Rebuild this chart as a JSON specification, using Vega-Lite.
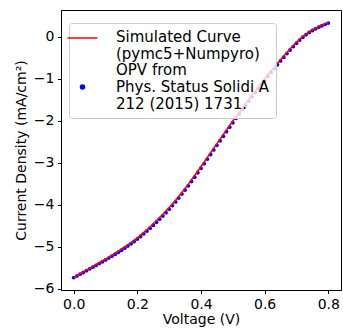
{
  "$schema": "https://vega.github.io/schema/vega-lite/v6.json",
  "width": 280,
  "height": 280,
  "autosize": {"type": "none"},
  "padding": {"left": 61, "top": 10, "right": 2, "bottom": 39},
  "config": {
    "font": "DejaVu Sans",
    "view": {"stroke": "black", "strokeWidth": 1},
    "axis": {
      "domainColor": "black", "tickColor": "black", "labelColor": "black", "titleColor": "black",
      "labelFont": "DejaVu Sans", "titleFont": "DejaVu Sans",
      "labelFontSize": 14, "titleFontSize": 14, "titleFontWeight": "normal",
      "tickSize": 3.5, "labelPadding": 3.5, "grid": false, "domainWidth": 1, "tickWidth": 1
    }
  },
  "datasets": {
    "dots": [
      {"V":0.00,"J":-5.730},{"V":0.01,"J":-5.690},{"V":0.02,"J":-5.649},{"V":0.03,"J":-5.608},{"V":0.04,"J":-5.566},
      {"V":0.05,"J":-5.524},{"V":0.06,"J":-5.482},{"V":0.07,"J":-5.440},{"V":0.08,"J":-5.397},{"V":0.09,"J":-5.354},
      {"V":0.10,"J":-5.310},{"V":0.11,"J":-5.266},{"V":0.12,"J":-5.221},{"V":0.13,"J":-5.175},{"V":0.14,"J":-5.128},
      {"V":0.15,"J":-5.080},{"V":0.16,"J":-5.030},{"V":0.17,"J":-4.979},{"V":0.18,"J":-4.926},{"V":0.19,"J":-4.871},
      {"V":0.20,"J":-4.814},{"V":0.21,"J":-4.754},{"V":0.22,"J":-4.691},{"V":0.23,"J":-4.625},{"V":0.24,"J":-4.557},
      {"V":0.25,"J":-4.487},{"V":0.26,"J":-4.415},{"V":0.27,"J":-4.341},{"V":0.28,"J":-4.265},{"V":0.29,"J":-4.186},
      {"V":0.30,"J":-4.104},{"V":0.31,"J":-4.019},{"V":0.32,"J":-3.931},{"V":0.33,"J":-3.840},{"V":0.34,"J":-3.746},
      {"V":0.35,"J":-3.649},{"V":0.36,"J":-3.549},{"V":0.37,"J":-3.447},{"V":0.38,"J":-3.343},{"V":0.39,"J":-3.237},
      {"V":0.40,"J":-3.130},{"V":0.41,"J":-3.022},{"V":0.42,"J":-2.914},{"V":0.43,"J":-2.805},{"V":0.44,"J":-2.696},
      {"V":0.45,"J":-2.587},{"V":0.46,"J":-2.478},{"V":0.47,"J":-2.370},{"V":0.48,"J":-2.262},{"V":0.49,"J":-2.155},
      {"V":0.50,"J":-2.049},{"V":0.51,"J":-1.944},{"V":0.52,"J":-1.840},{"V":0.53,"J":-1.737},{"V":0.54,"J":-1.635},
      {"V":0.55,"J":-1.534},{"V":0.56,"J":-1.434},{"V":0.57,"J":-1.335},{"V":0.58,"J":-1.237},{"V":0.59,"J":-1.140},
      {"V":0.60,"J":-1.044},{"V":0.61,"J":-0.949},{"V":0.62,"J":-0.855},{"V":0.63,"J":-0.762},{"V":0.64,"J":-0.670},
      {"V":0.65,"J":-0.580},{"V":0.66,"J":-0.492},{"V":0.67,"J":-0.406},{"V":0.68,"J":-0.322},{"V":0.69,"J":-0.240},
      {"V":0.70,"J":-0.161},{"V":0.71,"J":-0.086},{"V":0.72,"J":-0.018},{"V":0.73,"J":0.042},{"V":0.74,"J":0.095},
      {"V":0.75,"J":0.142},{"V":0.76,"J":0.184},{"V":0.77,"J":0.222},{"V":0.78,"J":0.257},{"V":0.79,"J":0.289},
      {"V":0.80,"J":0.319}
    ],
    "sim": [
      {"V":0.00,"J":-5.725},{"V":0.02,"J":-5.639},{"V":0.04,"J":-5.551},{"V":0.06,"J":-5.462},{"V":0.08,"J":-5.377},
      {"V":0.10,"J":-5.290},{"V":0.12,"J":-5.196},{"V":0.14,"J":-5.103},{"V":0.16,"J":-5.000},{"V":0.18,"J":-4.896},
      {"V":0.20,"J":-4.784},{"V":0.22,"J":-4.656},{"V":0.24,"J":-4.522},{"V":0.26,"J":-4.375},{"V":0.28,"J":-4.225},
      {"V":0.30,"J":-4.064},{"V":0.32,"J":-3.891},{"V":0.34,"J":-3.706},{"V":0.36,"J":-3.509},{"V":0.38,"J":-3.303},
      {"V":0.40,"J":-3.090},{"V":0.42,"J":-2.874},{"V":0.44,"J":-2.656},{"V":0.46,"J":-2.438},{"V":0.48,"J":-2.222},
      {"V":0.50,"J":-2.009},{"V":0.52,"J":-1.800},{"V":0.54,"J":-1.595},{"V":0.56,"J":-1.394},{"V":0.58,"J":-1.197},
      {"V":0.60,"J":-1.004},{"V":0.62,"J":-0.820},{"V":0.64,"J":-0.635},{"V":0.66,"J":-0.462},{"V":0.68,"J":-0.292},
      {"V":0.70,"J":-0.136},{"V":0.72,"J":0.002},{"V":0.74,"J":0.115},{"V":0.76,"J":0.199},{"V":0.78,"J":0.272},
      {"V":0.80,"J":0.329}
    ]
  },
  "layer": [
    {
      "mark": {"type": "rule", "color": "#3a98dc", "strokeWidth": 1, "strokeDash": [3, 2]},
      "encoding": {"x": {"datum": 0, "type": "quantitative"}}
    },
    {
      "mark": {"type": "rule", "color": "#3a98dc", "strokeWidth": 1, "strokeDash": [3, 2]},
      "encoding": {"y": {"datum": 0, "type": "quantitative"}}
    },
    {
      "data": {"name": "dots"},
      "mark": {"type": "point", "filled": true, "opacity": 1, "size": 15},
      "encoding": {
        "x": {"field": "V", "type": "quantitative"},
        "y": {"field": "J", "type": "quantitative"},
        "color": {"datum": "opv"}
      }
    },
    {
      "data": {"name": "sim"},
      "mark": {"type": "line", "strokeWidth": 1.5},
      "encoding": {
        "x": {"field": "V", "type": "quantitative",
              "scale": {"domain": [-0.04, 0.84], "nice": false, "zero": false},
              "axis": {"title": "Voltage (V)", "values": [0, 0.2, 0.4, 0.6, 0.8], "format": ".1f", "titlePadding": 1}},
        "y": {"field": "J", "type": "quantitative",
              "scale": {"domain": [-6.025, 0.63], "nice": false, "zero": false},
              "axis": {"title": "Current Density (mA/cm²)", "values": [-6, -5, -4, -3, -2, -1, 0], "format": "d", "titlePadding": 5}},
        "color": {
          "datum": "sim",
          "scale": {"domain": ["sim", "opv"], "range": ["#ff0000", "#0000ff"]},
          "legend": {
            "title": null,
            "orient": "none",
            "legendX": 8,
            "legendY": 13,
            "padding": 6,
            "fillColor": "rgba(255,255,255,0.8)",
            "strokeColor": "#cccccc",
            "cornerRadius": 3,
            "symbolSize": 900,
            "labelFont": "DejaVu Sans",
            "labelFontSize": 15,
            "labelColor": "black",
            "labelLineHeight": 16,
            "labelOffset": 26,
            "rowPadding": -3,
            "labelLimit": 300,
            "labelExpr": "datum.value === 'sim' ? ['Simulated Curve', '(pymc5+Numpyro)'] : ['OPV from', 'Phys. Status Solidi A', '212 (2015) 1731.']",
            "encode": {
              "symbols": {
                "update": {
                  "y": {"signal": "datum.value === 'sim' ? 9 : 25"},
                  "shape": {"signal": "datum.value === 'sim' ? 'stroke' : 'circle'"},
                  "size": {"signal": "datum.value === 'sim' ? 900 : 16"},
                  "fill": {"signal": "datum.value === 'sim' ? 'transparent' : '#0000ff'"},
                  "stroke": {"signal": "datum.value === 'sim' ? '#ff0000' : 'transparent'"},
                  "strokeWidth": {"value": 1.5},
                  "opacity": {"value": 1}
                }
              }
            }
          }
        }
      }
    }
  ]
}
